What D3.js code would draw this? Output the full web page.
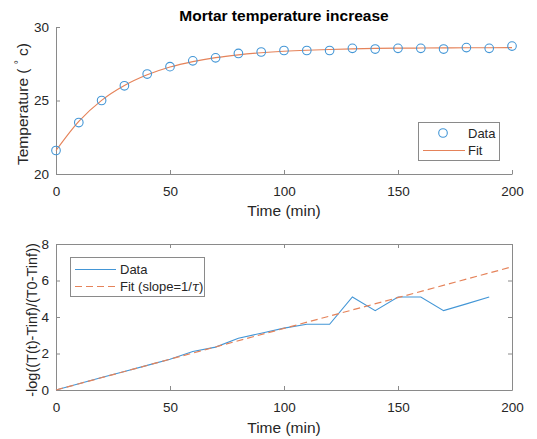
<!DOCTYPE html>
<html lang="en">
<head>
<meta charset="UTF-8">
<script src="https://d3js.org/d3.v7.min.js"></script>
<style>
  body { margin: 0; background: #fff; }
  svg { font-family: "Liberation Sans", Arial, sans-serif; }
  .tick text { fill: #262626; font-size: 13.5px; }
  .axis path, .axis line { stroke: #8a8a8a; }
  .lbl { fill: #262626; font-size: 15.5px; }
  .leg { fill: #262626; font-size: 13px; }
</style>
</head>
<body>
<svg id="chart" width="537" height="439"></svg>
<script>
// time (min)
const time = [0,10,20,30,40,50,60,70,80,90,100,110,120,130,140,150,160,170,180,190,200];
// measured temperature (deg C)
const temp = [21.6,23.5,25.0,26.0,26.8,27.3,27.7,27.9,28.2,28.3,28.4,28.4,28.4,28.55,28.5,28.55,28.55,28.5,28.6,28.55,28.7];
// fitted curve
const tempFit = [21.6,23.58,25.01,26.02,26.75,27.28,27.65,27.92,28.11,28.25,28.35,28.42,28.47,28.51,28.54,28.56,28.57,28.58,28.59,28.59,28.6];
// linearised data (t = 0..190)
const logTime = [0,10,20,30,40,50,60,70,80,90,100,110,120,130,140,150,160,170,180,190];
const logVal = [0,0.34,0.68,1.01,1.35,1.69,2.11,2.35,2.84,3.11,3.39,3.6,3.6,5.1,4.35,5.1,5.1,4.35,4.72,5.1];
// fit line endpoints
const fitTime = [0,200];
const fitVal = [0,6.75];

const xTicks = [0,50,100,150,200];
const yTicksTop = [20,25,30];
const yTicksBot = [0,2,4,6,8];

const blue = "#4396d6", orange = "#e5835a", gray = "#8a8a8a";
const svg = d3.select("#chart");
const L = 56, R = 512;

// ---------- top panel ----------
const x1 = d3.scaleLinear().domain([0,200]).range([L,R]);
const y1 = d3.scaleLinear().domain([20,30]).range([174,27]);

svg.append("g").attr("class","axis")
    .attr("transform","translate(0,174)")
    .call(d3.axisBottom(x1).tickValues(xTicks).tickSizeInner(-4).tickSizeOuter(0).tickPadding(9))
  .call(g => g.selectAll(".tick text").attr("dy","0.95em"));
svg.append("g").attr("class","axis")
    .attr("transform",`translate(${L},0)`)
    .call(d3.axisLeft(y1).tickValues(yTicksTop).tickSizeInner(-4).tickSizeOuter(0).tickPadding(7));

svg.append("path")
    .datum(time.map((t,i) => [t, tempFit[i]]))
    .attr("fill","none").attr("stroke",orange).attr("stroke-width",1.2)
    .attr("d", d3.line().x(d => x1(d[0])).y(d => y1(d[1])).curve(d3.curveMonotoneX));

svg.append("g").selectAll("circle")
  .data(time.map((t,i) => [t, temp[i]]))
  .join("circle")
    .attr("cx", d => x1(d[0])).attr("cy", d => y1(d[1])).attr("r", 4.3)
    .attr("fill","none").attr("stroke",blue).attr("stroke-width",1.1);

svg.append("text").attr("x",284).attr("y",21)
    .attr("text-anchor","middle").attr("font-weight","bold").attr("font-size",15.5)
    .attr("fill","#000").text("Mortar temperature increase");

svg.append("text").attr("class","lbl").attr("x",284).attr("y",216)
    .attr("text-anchor","middle").text("Time (min)");

let ylab = svg.append("text").attr("class","lbl")
    .attr("text-anchor","middle")
    .attr("transform","translate(28,104) rotate(-90)");
ylab.append("tspan").text("Temperature ( ");
ylab.append("tspan").style("font-size","10px").attr("dy",-6).text("°");
ylab.append("tspan").attr("dy",6).text(" c)");

// legend top
const lg1 = svg.append("g");
lg1.append("rect").attr("x",418.5).attr("y",122.5).attr("width",81).attr("height",38)
    .attr("fill","#fff").attr("stroke",gray);
lg1.append("circle").attr("cx",443).attr("cy",133).attr("r",4.3)
    .attr("fill","none").attr("stroke",blue).attr("stroke-width",1.1);
lg1.append("line").attr("x1",423).attr("x2",465).attr("y1",150.5).attr("y2",150.5)
    .attr("stroke",orange).attr("stroke-width",1.2);
lg1.append("text").attr("class","leg").attr("x",468).attr("y",138).text("Data");
lg1.append("text").attr("class","leg").attr("x",468).attr("y",155).text("Fit");

// ---------- bottom panel ----------
const x2 = d3.scaleLinear().domain([0,200]).range([L,R]);
const y2 = d3.scaleLinear().domain([0,8]).range([390,244]);

svg.append("g").attr("class","axis")
    .attr("transform","translate(0,390)")
    .call(d3.axisBottom(x2).tickValues(xTicks).tickSizeInner(-4).tickSizeOuter(0).tickPadding(9))
  .call(g => g.selectAll(".tick text").attr("dy","0.95em"));
svg.append("g").attr("class","axis")
    .attr("transform","translate(0,244)")
    .call(d3.axisTop(x2).tickValues(xTicks).tickSizeInner(-4).tickSizeOuter(0).tickFormat(""));
svg.append("g").attr("class","axis")
    .attr("transform",`translate(${L},0)`)
    .call(d3.axisLeft(y2).tickValues(yTicksBot).tickSizeInner(-4).tickSizeOuter(0).tickPadding(7));
svg.append("g").attr("class","axis")
    .attr("transform",`translate(${R},0)`)
    .call(d3.axisRight(y2).tickValues(yTicksBot).tickSizeInner(-4).tickSizeOuter(0).tickFormat(""));

svg.append("path")
    .datum(logTime.map((t,i) => [t, logVal[i]]))
    .attr("fill","none").attr("stroke",blue).attr("stroke-width",1.1)
    .attr("d", d3.line().x(d => x2(d[0])).y(d => y2(d[1])));

svg.append("path")
    .datum(fitTime.map((t,i) => [t, fitVal[i]]))
    .attr("fill","none").attr("stroke",orange).attr("stroke-width",1.2)
    .attr("stroke-dasharray","7,4")
    .attr("d", d3.line().x(d => x2(d[0])).y(d => y2(d[1])));

svg.append("text").attr("class","lbl").attr("x",284).attr("y",433)
    .attr("text-anchor","middle").text("Time (min)");
svg.append("text").attr("class","lbl").attr("text-anchor","middle")
    .style("font-size","14.5px")
    .attr("transform","translate(37,320) rotate(-90)")
    .text("-log((T(t)-Tinf)/(T0-Tinf))");

// legend bottom
const lg2 = svg.append("g");
lg2.append("rect").attr("x",70.5).attr("y",257.5).attr("width",134).attr("height",39)
    .attr("fill","#fff").attr("stroke",gray);
lg2.append("line").attr("x1",75).attr("x2",116).attr("y1",269.5).attr("y2",269.5)
    .attr("stroke",blue).attr("stroke-width",1.1);
lg2.append("line").attr("x1",75).attr("x2",116).attr("y1",286.5).attr("y2",286.5)
    .attr("stroke",orange).attr("stroke-width",1.2).attr("stroke-dasharray","7,4");
lg2.append("text").attr("class","leg").attr("x",120).attr("y",274).text("Data");
const ft = lg2.append("text").attr("class","leg").attr("x",120).attr("y",291);
ft.append("tspan").text("Fit (slope=1/");
ft.append("tspan").attr("font-style","italic").attr("font-family","DejaVu Serif, serif").text("τ");
ft.append("tspan").text(")");
</script>
</body>
</html>
